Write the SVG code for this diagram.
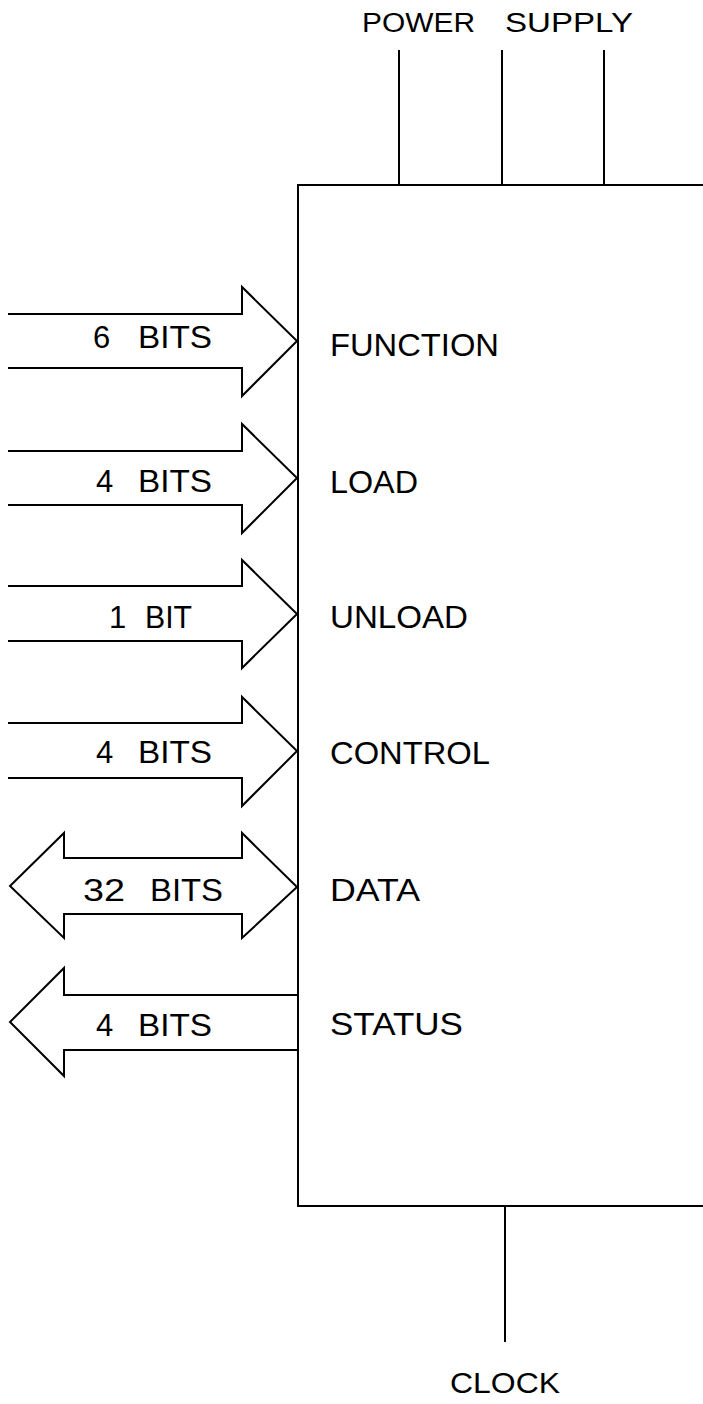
<svg xmlns="http://www.w3.org/2000/svg" width="703" height="1404" viewBox="0 0 703 1404">
<style>
.ln{fill:none;stroke:#000;stroke-width:2;stroke-linejoin:miter}
.t{font-family:"Liberation Sans",Arial,sans-serif;font-size:31px;fill:#000}
</style>
<rect width="703" height="1404" fill="#fff"/>
<g id="unit">
<path class="ln" d="M710 185 H298 V1206 H710"/>
<text class="t" x="330" y="356" textLength="169" lengthAdjust="spacingAndGlyphs">FUNCTION</text>
<text class="t" x="330" y="493" textLength="88" lengthAdjust="spacingAndGlyphs">LOAD</text>
<text class="t" x="330" y="628" textLength="138" lengthAdjust="spacingAndGlyphs">UNLOAD</text>
<text class="t" x="330" y="764" textLength="160" lengthAdjust="spacingAndGlyphs">CONTROL</text>
<text class="t" x="330" y="901" textLength="90" lengthAdjust="spacingAndGlyphs">DATA</text>
<text class="t" x="330" y="1035" textLength="133" lengthAdjust="spacingAndGlyphs">STATUS</text>
</g>
<g id="power">
<text class="t" y="32" style="font-size:27px"><tspan x="362" textLength="113" lengthAdjust="spacingAndGlyphs">POWER</tspan><tspan x="505" textLength="128" lengthAdjust="spacingAndGlyphs">SUPPLY</tspan></text>
</g>
<g id="clock">
<text class="t" x="450" y="1393" textLength="110" lengthAdjust="spacingAndGlyphs" style="font-size:29px">CLOCK</text>
</g>
<g id="connectors">
<path class="ln" d="M399 50 V185 M502 50 V185 M604 50 V185"/>
<path class="ln" d="M505 1206 V1342"/>
<path class="ln" d="M8 314 H242 V287 L297 341 L242 396 V368 H8"/>
<path class="ln" d="M8 451 H242 V424 L297 478 L242 533 V505 H8"/>
<path class="ln" d="M8 586 H242 V560 L297 614 L242 668 V641 H8"/>
<path class="ln" d="M8 723 H242 V697 L297 751 L242 806 V778 H8"/>
<path class="ln" d="M64 858 H242 V833 L297 887 L242 938 V914 H64 V938 L10 886 L64 833 Z"/>
<path class="ln" d="M298 995 H64 V968 L10 1022 L64 1076 V1050 H298"/>
</g>
<g id="labels">
<text class="t" y="348"><tspan x="93">6</tspan><tspan x="138" textLength="74" lengthAdjust="spacingAndGlyphs">BITS</tspan></text>
<text class="t" y="492"><tspan x="96">4</tspan><tspan x="138" textLength="74" lengthAdjust="spacingAndGlyphs">BITS</tspan></text>
<text class="t" y="628"><tspan x="109">1</tspan><tspan x="145" textLength="47" lengthAdjust="spacingAndGlyphs">BIT</tspan></text>
<text class="t" y="763"><tspan x="96">4</tspan><tspan x="138" textLength="74" lengthAdjust="spacingAndGlyphs">BITS</tspan></text>
<text class="t" y="901"><tspan x="83" textLength="42" lengthAdjust="spacingAndGlyphs">32</tspan><tspan x="150" textLength="73" lengthAdjust="spacingAndGlyphs">BITS</tspan></text>
<text class="t" y="1036"><tspan x="96">4</tspan><tspan x="138" textLength="74" lengthAdjust="spacingAndGlyphs">BITS</tspan></text>
</g>
</svg>
